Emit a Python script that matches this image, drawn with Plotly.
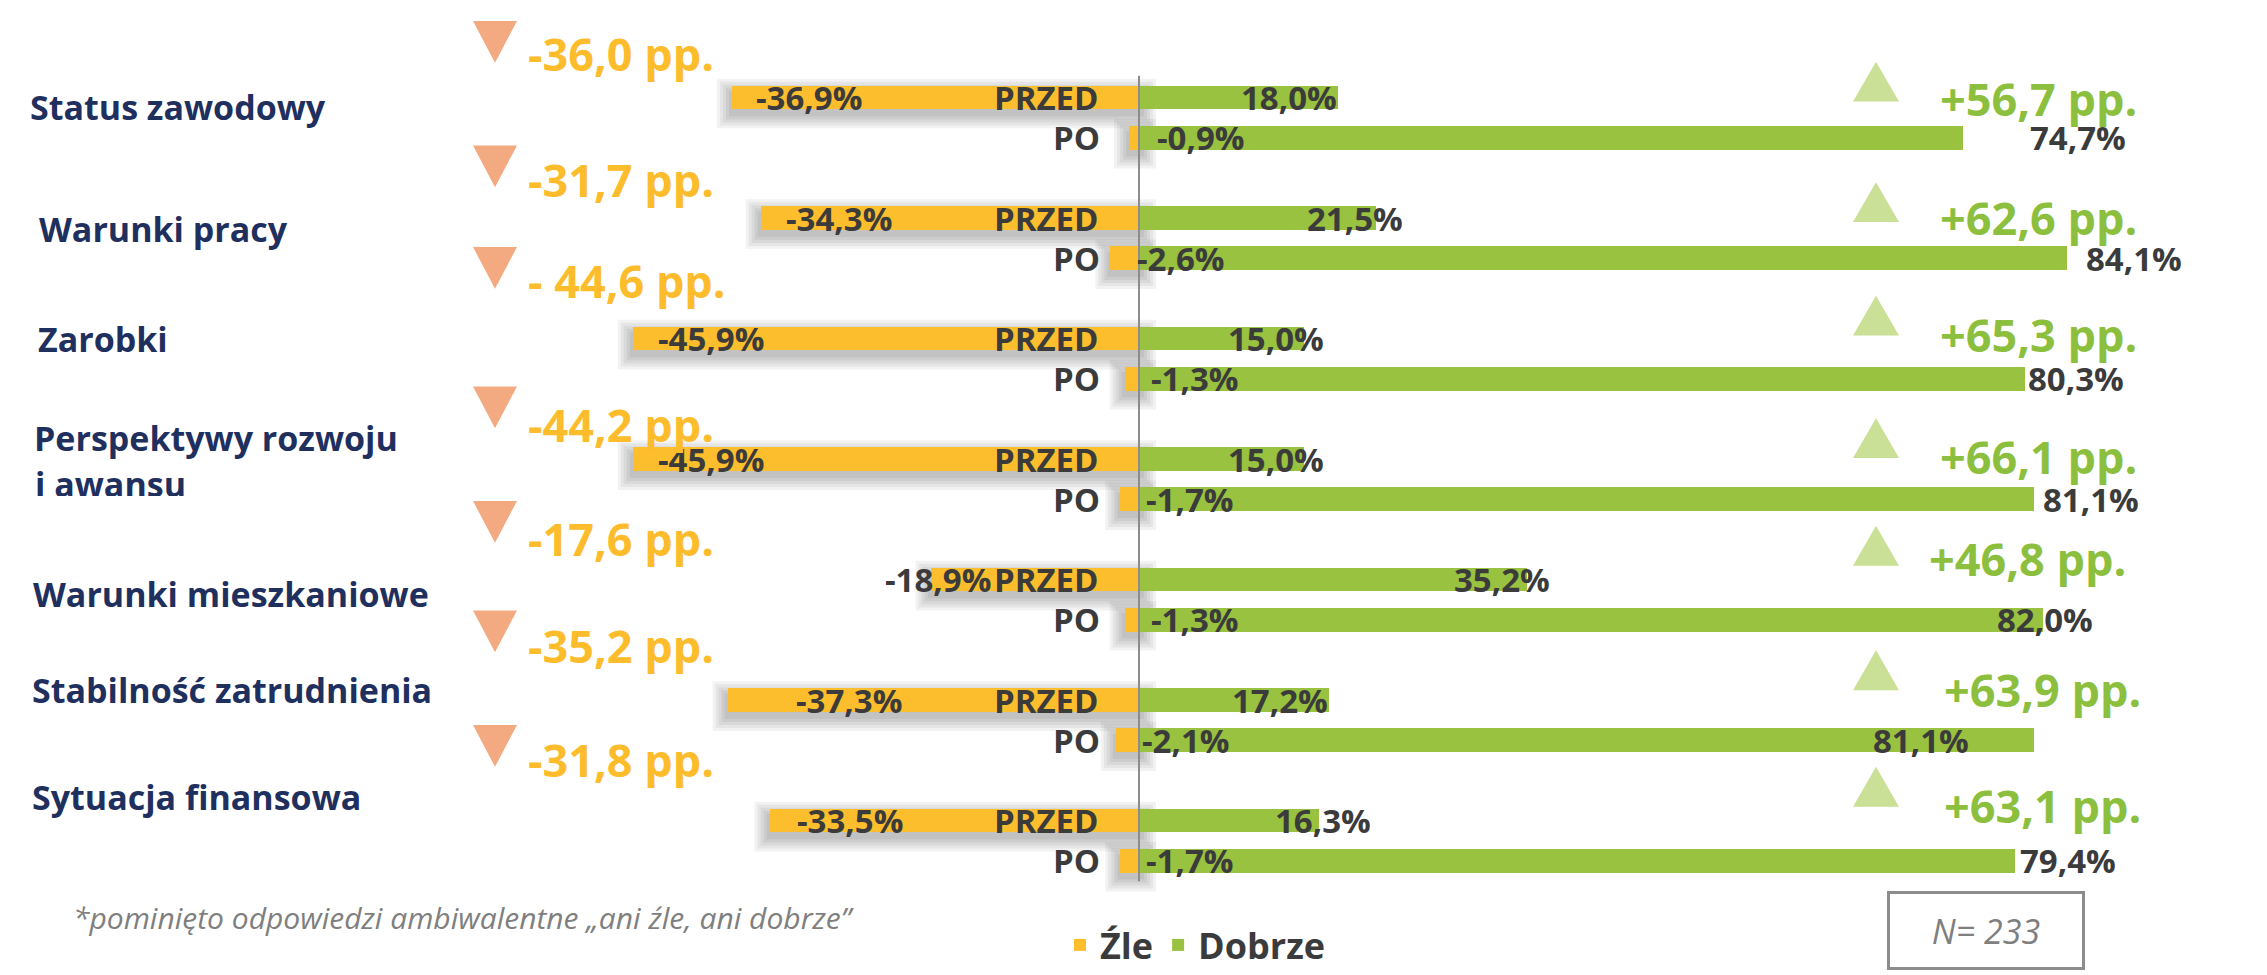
import plotly.graph_objects as go

# ---------------- data ----------------
categories = ["Status zawodowy", "Warunki pracy", "Zarobki",
              "Perspektywy rozwoju\ni awansu", "Warunki mieszkaniowe",
              "Stabilność zatrudnienia", "Sytuacja finansowa"]
periods = ["PRZED", "PO"]
zle_przed = [-36.9, -34.3, -45.9, -45.9, -18.9, -37.3, -33.5]
zle_po = [-0.9, -2.6, -1.3, -1.7, -1.3, -2.1, -1.7]
dobrze_przed = [18.0, 21.5, 15.0, 15.0, 35.2, 17.2, 16.3]
dobrze_po = [74.7, 84.1, 80.3, 81.1, 82.0, 81.1, 79.4]
zmiana_zle = ["-36,0 pp.", "-31,7 pp.", "- 44,6 pp.", "-44,2 pp.",
              "-17,6 pp.", "-35,2 pp.", "-31,8 pp."]
zmiana_dobrze = ["+56,7 pp.", "+62,6 pp.", "+65,3 pp.", "+66,1 pp.",
                 "+46,8 pp.", "+63,9 pp.", "+63,1 pp."]
legend_names = ["Źle", "Dobrze"]
footnote = "*pominięto odpowiedzi ambiwalentne „ani źle, ani dobrze”"
n_text = "N= 233"

# ---------------- styling / layout tuning (pixels) ----------------
W, H = 2267, 975
X0_PX, Y0_PX = 1139, 98          # zero line x, first bar centre y
PX_PER_PCT = 11.03
ROW_PX = 121
PX_PER_Y = ROW_PX / 3.0
BAR_W = 0.59
FONT = "Open Sans"
ORANGE = "#FDBE2D"
GREEN = "#98C23F"
ORANGE_TXT = "#FDBC2C"
GREEN_TXT = "#8DBF3F"
TRI_ORANGE = "#F4AA80"
TRI_GREEN = "#C9E096"
LABEL_C = "#3B3B3B"
CAT_C = "#1F305E"
GREY = "#7F7F7F"

cat_left_px = [29, 38, 37, 33, 32, 31, 31]
cat_dy_px = [9, 11, 0, -21, 14, -10, -24]
cat2_dy_px = 30
zle_przed_lbl_off = [23, 24, 24, 24, -47, 67, 26]      # from bar left edge
dob_przed_lbl_off = [0, 28, 21, 21, 24, 0, 53]         # right edge from bar end
dob_po_lbl_off = [66, 18, 2, 8, -47, -162, 4]          # left edge from bar end
zle_po_lbl_px = [17, -3, 11, 6, 11, 2, 6]              # left edge from zero
o_lbl_dy = [-44, -39, -58, -35, -41, -55, -61]
g_lbl_dy = [1, -1, -4, -3, -21, -11, -15]
g_lbl_left = [1939, 1939, 1939, 1939, 1928, 1943, 1943]
o_tri_dy = [-77, -73, -92, -73, -79, -90, -96]
g_tri_dy = [-36, -36, -43, -41, -54, -50, -54]


def xd(px):
    return (px - X0_PX) / PX_PER_PCT


def yd(py):
    return (py - Y0_PX) / PX_PER_Y


def fmt(v):
    return f"{v:.1f}".replace(".", ",") + "%"


n = len(categories)
y_przed = [3 * i for i in range(n)]
y_po = [3 * i + 1 for i in range(n)]
row_px = [Y0_PX + ROW_PX * i for i in range(n)]

fig = go.Figure()

# soft drop shadows behind orange bars
shapes = []
for vals, ys in ((zle_przed, y_przed), (zle_po, y_po)):
    for v, yy in zip(vals, ys):
        left_px = X0_PX + v * PX_PER_PCT
        cy = Y0_PX + yy * PX_PER_Y
        half = BAR_W * PX_PER_Y / 2
        for k in (0, 3, 6, 9, 12):
            shapes.append(dict(type="rect", layer="below", xref="x", yref="y",
                               x0=xd(left_px - 3 - k), x1=xd(X0_PX + 5 + k),
                               y0=yd(cy - half + 5 - k), y1=yd(cy + half + 7 + k),
                               line=dict(width=0), fillcolor="rgba(0,0,0,0.05)"))

fig.add_trace(go.Bar(y=y_przed + y_po, x=zle_przed + zle_po, orientation="h",
                     name=legend_names[0], marker=dict(color=ORANGE, line=dict(width=0)),
                     width=BAR_W, hoverinfo="x"))
fig.add_trace(go.Bar(y=y_przed + y_po, x=dobrze_przed + dobrze_po, orientation="h",
                     name=legend_names[1], marker=dict(color=GREEN, line=dict(width=0)),
                     width=BAR_W, hoverinfo="x"))

# triangles
tx, ty = [], []
for i in range(n):
    top = row_px[i] + o_tri_dy[i]
    tx += [xd(473), xd(517), xd(495), xd(473), None]
    ty += [yd(top), yd(top), yd(top + 42), yd(top), None]
fig.add_trace(go.Scatter(x=tx, y=ty, mode="lines", fill="toself", fillcolor=TRI_ORANGE,
                         line=dict(width=0, color=TRI_ORANGE), showlegend=False, hoverinfo="skip"))
tx, ty = [], []
for i in range(n):
    top = row_px[i] + g_tri_dy[i]
    tx += [xd(1853), xd(1899), xd(1876), xd(1853), None]
    ty += [yd(top + 40), yd(top + 40), yd(top), yd(top + 40), None]
fig.add_trace(go.Scatter(x=tx, y=ty, mode="lines", fill="toself", fillcolor=TRI_GREEN,
                         line=dict(width=0, color=TRI_GREEN), showlegend=False, hoverinfo="skip"))

anns = []


def ann(x, y, text, size, color, xanchor="left", weight=700, style="normal",
        xref="x", yref="y"):
    anns.append(dict(x=x, y=y, xref=xref, yref=yref, text=text, showarrow=False,
                     xanchor=xanchor, yanchor="middle", borderpad=0,
                     font=dict(family=FONT, size=size, color=color, weight=weight,
                               style=style)))


for i in range(n):
    # category labels
    lines = categories[i].split("\n")
    ann(xd(cat_left_px[i]), yd(row_px[i] + cat_dy_px[i]), lines[0], 34, CAT_C)
    # period labels
    ann(xd(1100), y_przed[i], periods[0], 33, LABEL_C, xanchor="right")
    ann(xd(1101), y_po[i], periods[1], 33, LABEL_C, xanchor="right")
    # value labels
    bl = X0_PX + zle_przed[i] * PX_PER_PCT
    ann(xd(bl + zle_przed_lbl_off[i]), y_przed[i], fmt(zle_przed[i]), 33, LABEL_C)
    be = X0_PX + dobrze_przed[i] * PX_PER_PCT
    ann(xd(be + dob_przed_lbl_off[i]), y_przed[i], fmt(dobrze_przed[i]), 33, LABEL_C,
        xanchor="right")
    ann(xd(X0_PX + zle_po_lbl_px[i]), y_po[i], fmt(zle_po[i]), 33, LABEL_C)
    be = X0_PX + dobrze_po[i] * PX_PER_PCT
    ann(xd(be + dob_po_lbl_off[i]), y_po[i], fmt(dobrze_po[i]), 33, LABEL_C)
    # change labels
    ann(xd(527), yd(row_px[i] + o_lbl_dy[i]), zmiana_zle[i], 45, ORANGE_TXT)
    ann(xd(g_lbl_left[i]), yd(row_px[i] + g_lbl_dy[i]), zmiana_dobrze[i], 45, GREEN_TXT)

# second line of the two-line category (clipped at the bottom, as in the original)
for i, c in enumerate(categories):
    lines = c.split("\n")
    if len(lines) > 1:
        fig.add_trace(go.Scatter(x=[xd(cat_left_px[i] + 2)], y=[yd(row_px[i] + cat2_dy_px)],
                                 mode="text", text=[lines[1]], textposition="middle right",
                                 textfont=dict(family=FONT, size=34, color=CAT_C, weight=700),
                                 showlegend=False, hoverinfo="skip", cliponaxis=False))
        shapes.append(dict(type="rect", layer="above", xref="x", yref="y",
                           x0=xd(10), x1=xd(330), y0=yd(row_px[i] + 37),
                           y1=yd(row_px[i] + 70), line=dict(width=0), fillcolor="white"))

# zero line
shapes.append(dict(type="line", layer="above", xref="x", yref="y", x0=0, x1=0,
                   y0=yd(76), y1=yd(885), line=dict(color="#8C8C8C", width=2)))

# footnote and N box
ann(72 / W, 1 - 921 / H, footnote, 30, GREY, weight=400, style="italic",
    xref="paper", yref="paper")
anns.append(dict(x=1986 / W, y=1 - 934.5 / H, xref="paper", yref="paper", text=n_text,
                 showarrow=False, xanchor="center", yanchor="middle", width=192, height=73,
                 borderwidth=3, bordercolor="#8C8C8C", borderpad=0,
                 font=dict(family=FONT, size=34, color=GREY, style="italic")))

fig.update_layout(
    width=W, height=H, margin=dict(l=0, r=0, t=0, b=0, pad=0),
    paper_bgcolor="white", plot_bgcolor="white",
    barmode="relative", bargap=0,
    xaxis=dict(range=[xd(0), xd(W)], visible=False, fixedrange=True),
    yaxis=dict(range=[yd(H), yd(0)], visible=False, fixedrange=True),
    showlegend=True,
    legend=dict(orientation="h", x=1060 / W, y=1 - 949 / H, xanchor="left",
                yanchor="middle", bgcolor="rgba(0,0,0,0)", itemclick=False,
                font=dict(family=FONT, size=36, color=LABEL_C, weight=700),
                traceorder="normal", tracegroupgap=0),
    annotations=anns, shapes=shapes,
    font=dict(family=FONT),
)

fig.write_html("out.html", config={"displayModeBar": False},
               post_script="document.body.style.margin='0px';"
               "document.body.style.overflow='hidden';")
